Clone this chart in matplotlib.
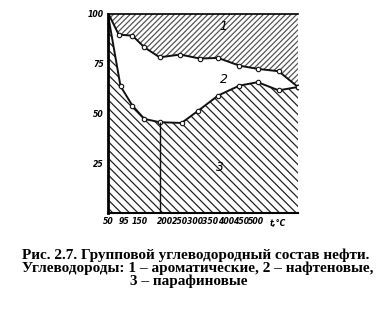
import numpy as np
import matplotlib.pyplot as plt

plt.rcParams['hatch.linewidth'] = 0.9

# temperature scale of the original figure is not linear at the start
tick_t = [50, 95, 150, 200, 250, 300, 350, 400, 450, 500, 650]
tick_p = [0, 16, 31, 56, 71, 86, 101, 116, 131, 146, 190]
tick_labels = ['50', '95', '150', '200', '250', '300', '350', '400', '450', '500']

# 1 - aromatic (above upper curve), 2 - naphthenic, 3 - paraffinic (below lower curve)
t_upper = [52, 80, 125, 160, 190, 250, 315, 375, 445, 505, 575, 640]
upper = [100, 89.6, 89.1, 83.2, 78.2, 79.6, 77.6, 77.9, 74.0, 72.4, 71.2, 63.3]
t_lower = [50, 85, 125, 160, 190, 255, 310, 375, 445, 505, 575, 640]
lower = [100, 63.7, 53.9, 47.2, 45.6, 45.2, 51.4, 59.0, 64.0, 65.7, 61.6, 63.3]
t_split = 190

def fwd(t):
    return np.interp(t, tick_t, tick_p)

def inv(p):
    return np.interp(p, tick_p, tick_t)

fig = plt.figure(figsize=(3.88, 3.25), dpi=100)
ax = fig.add_axes([0.278, 0.345, 0.49, 0.612])
ax.set_xscale('function', functions=(fwd, inv))

ax.fill_between(t_upper, upper, 100, facecolor='white', edgecolor='#555555',
                hatch='//////', linewidth=0)
ax.fill_between(t_lower, 0, lower, facecolor='white', edgecolor='#222222',
                hatch='\\\\\\\\', linewidth=0)
ax.plot(t_upper, upper, color='#111111', lw=1.4)
ax.plot(t_upper[1:], upper[1:], 'o', ms=3.2, mfc='white', mec='#111111', mew=0.8)
ax.plot(t_lower, lower, color='#111111', lw=1.4)
ax.plot(t_lower[1:], lower[1:], 'o', ms=3.2, mfc='white', mec='#111111', mew=0.8)
ax.vlines(t_split, 0, lower[t_lower.index(t_split)], color='#111111', lw=1.0)

ax.text(392, 93.5, '1', fontsize=9, style='italic', ha='center', va='center')
ax.text(395, 67, '2', fontsize=9, style='italic', ha='center', va='center')
ax.text(380, 22.6, '3', fontsize=9, style='italic', ha='center', va='center')

tickfont = dict(family=['Liberation Sans Narrow', 'DejaVu Sans'], size=5.6,
                style='italic', weight='bold')
ax.set_xlim(50, 640)
ax.set_ylim(0, 100)
ax.set_xticks(tick_t[:-1])
ax.set_xticklabels(tick_labels, fontdict=tickfont)
ax.set_yticks([25, 50, 75, 100])
ax.set_yticklabels(['25', '50', '75', '100'], fontdict=tickfont)
ax.tick_params(length=0, pad=3)
ax.text(545, -3, 't,°C', fontdict=tickfont, ha='left', va='top')
ax.spines['right'].set_visible(False)
ax.spines['left'].set_linewidth(2.0)
ax.spines['bottom'].set_linewidth(1.5)
ax.spines['top'].set_linewidth(1.2)

cap = dict(fontsize=11, fontweight='bold', family='Liberation Serif', ha='left', va='center')
fig.text(22 / 388, 1 - 255 / 325, 'Рис. 2.7. Групповой углеводородный состав нефти.', **cap)
fig.text(22 / 388, 1 - 268 / 325, 'Углеводороды: 1 – ароматические, 2 – нафтеновые,', **cap)
fig.text(130 / 388, 1 - 281 / 325, '3 – парафиновые', **cap)

fig.savefig('out.png', dpi=100)
